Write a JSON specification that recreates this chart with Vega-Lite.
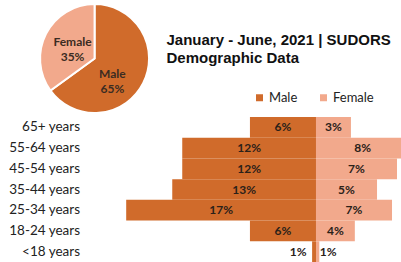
{
  "$schema": "https://vega.github.io/schema/vega-lite/v6.json",
  "padding": 0,
  "spacing": 0,
  "background": "white",
  "config": {"view": {"stroke": null}, "concat": {"spacing": 0}},
  "datasets": {
    "pie": [
      {"sex": "Male", "share": 65, "label": "Male\n65%"},
      {"sex": "Female", "share": 35, "label": "Female\n35%"}
    ],
    "titleText": [
      {"t": "January - June, 2021 | SUDORS\nDemographic Data"}
    ],
    "bars": [
      {"age": "65+ years", "sex": "Male", "pct": 5.95, "label": "6%"},
      {"age": "65+ years", "sex": "Female", "pct": 3.15, "label": "3%"},
      {"age": "55-64 years", "sex": "Male", "pct": 12.05, "label": "12%"},
      {"age": "55-64 years", "sex": "Female", "pct": 8.4, "label": "8%"},
      {"age": "45-54 years", "sex": "Male", "pct": 12.05, "label": "12%"},
      {"age": "45-54 years", "sex": "Female", "pct": 7.3, "label": "7%"},
      {"age": "35-44 years", "sex": "Male", "pct": 12.95, "label": "13%"},
      {"age": "35-44 years", "sex": "Female", "pct": 5.5, "label": "5%"},
      {"age": "25-34 years", "sex": "Male", "pct": 17.1, "label": "17%"},
      {"age": "25-34 years", "sex": "Female", "pct": 6.85, "label": "7%"},
      {"age": "18-24 years", "sex": "Male", "pct": 5.95, "label": "6%"},
      {"age": "18-24 years", "sex": "Female", "pct": 3.5, "label": "4%"},
      {"age": "<18 years", "sex": "Male", "pct": 0.35, "label": "1%"},
      {"age": "<18 years", "sex": "Female", "pct": 0.3, "label": "1%"}
    ]
  },
  "vconcat": [
    {
      "width": 401,
      "height": 117,
      "layer": [
        {
          "data": {"name": "pie"},
          "mark": {"type": "arc", "outerRadius": 54.5, "stroke": "white", "strokeWidth": 2},
          "encoding": {
            "x": {"datum": -19.95, "type": "quantitative", "scale": {"domain": [-28.47, 7.66], "nice": false, "zero": false}, "axis": null},
            "theta": {"field": "share", "type": "quantitative", "stack": true, "scale": {"domain": [0, 100]}},
            "order": {"field": "share", "sort": "descending"},
            "color": {
              "field": "sex", "type": "nominal",
              "scale": {"domain": ["Male", "Female"], "range": ["#D06B2B", "#F2A98C"]},
              "legend": {"orient": "none", "legendX": 253, "legendY": 91, "direction": "horizontal", "title": null, "symbolType": "square", "symbolSize": 49, "symbolStrokeWidth": 0, "labelFont": "Lato", "labelFontSize": 13, "labelColor": "#222222", "labelOffset": 3, "columnPadding": 19}
            }
          }
        },
        {
          "data": {"name": "pie"},
          "transform": [
            {"stack": "share", "groupby": [], "sort": [{"field": "share", "order": "descending"}], "as": ["s0", "s1"]},
            {"calculate": "(datum.s0 + datum.s1) / 2", "as": "mid"},
            {"filter": "datum.sex == 'Female'"}
          ],
          "mark": {"type": "text", "radius": 24.7, "dy": -5, "lineBreak": "\n", "lineHeight": 15, "font": "Lato", "fontWeight": "bold", "fontSize": 12, "color": "#3b2c22"},
          "encoding": {
            "x": {"datum": -19.95, "type": "quantitative"},
            "theta": {"field": "mid", "type": "quantitative", "stack": null},
            "text": {"field": "label"}
          }
        },
        {
          "data": {"name": "pie"},
          "transform": [
            {"stack": "share", "groupby": [], "sort": [{"field": "share", "order": "descending"}], "as": ["s0", "s1"]},
            {"calculate": "(datum.s0 + datum.s1) / 2", "as": "mid"},
            {"filter": "datum.sex == 'Male'"}
          ],
          "mark": {"type": "text", "radius": 20, "dy": 6.5, "lineBreak": "\n", "lineHeight": 15, "font": "Lato", "fontWeight": "bold", "fontSize": 12, "color": "#3b2c22"},
          "encoding": {
            "x": {"datum": -19.95, "type": "quantitative"},
            "theta": {"field": "mid", "type": "quantitative", "stack": null},
            "text": {"field": "label"}
          }
        },
        {
          "data": {"name": "titleText"},
          "mark": {"type": "text", "align": "left", "baseline": "alphabetic", "dy": -13.5, "lineBreak": "\n", "lineHeight": 18, "font": "Liberation Sans", "fontSize": 15, "fontWeight": "bold", "color": "#111111"},
          "encoding": {
            "x": {"datum": -13.47, "type": "quantitative"},
            "text": {"field": "t"}
          }
        }
      ]
    },
    {
      "width": 401,
      "height": 145,
      "data": {"name": "bars"},
      "transform": [
        {"calculate": "datum.sex == 'Male' ? -datum.pct : datum.pct", "as": "xv"},
        {"calculate": "datum.sex == 'Male' ? -max(datum.pct / 2, 1.6) : max(datum.pct / 2, 1.1)", "as": "lx"}
      ],
      "encoding": {
        "y": {
          "field": "age", "type": "ordinal",
          "scale": {"domain": ["65+ years", "55-64 years", "45-54 years", "35-44 years", "25-34 years", "18-24 years", "<18 years"], "paddingInner": 0, "paddingOuter": 0},
          "axis": null
        }
      },
      "layer": [
        {
          "mark": {"type": "bar", "clip": true},
          "encoding": {
            "x": {"field": "xv", "type": "quantitative", "scale": {"domain": [-28.47, 7.66], "nice": false, "zero": false}, "axis": null},
            "color": {
              "field": "sex", "type": "nominal",
              "scale": {"domain": ["Male", "Female"], "range": ["#D06B2B", "#F2A98C"]},
              "legend": {"orient": "none", "legendX": 253, "legendY": 91, "direction": "horizontal", "title": null, "symbolType": "square", "symbolSize": 49, "symbolStrokeWidth": 0, "labelFont": "Lato", "labelFontSize": 13, "labelColor": "#222222", "labelOffset": 3, "columnPadding": 19}
            }
          }
        },
        {
          "mark": {"type": "rule", "color": "white", "strokeWidth": 2},
          "encoding": {"x": {"datum": 0}}
        },
        {
          "mark": {"type": "text", "font": "Lato", "fontWeight": "bold", "fontSize": 12, "color": "#2b2119"},
          "encoding": {
            "x": {"field": "lx", "type": "quantitative"},
            "text": {"field": "label"}
          }
        },
        {
          "transform": [{"filter": "datum.sex == 'Male'"}],
          "mark": {"type": "text", "align": "right", "font": "Lato", "fontSize": 13.5, "color": "#222222"},
          "encoding": {
            "x": {"datum": -21.26},
            "text": {"field": "age"}
          }
        }
      ]
    }
  ]
}
